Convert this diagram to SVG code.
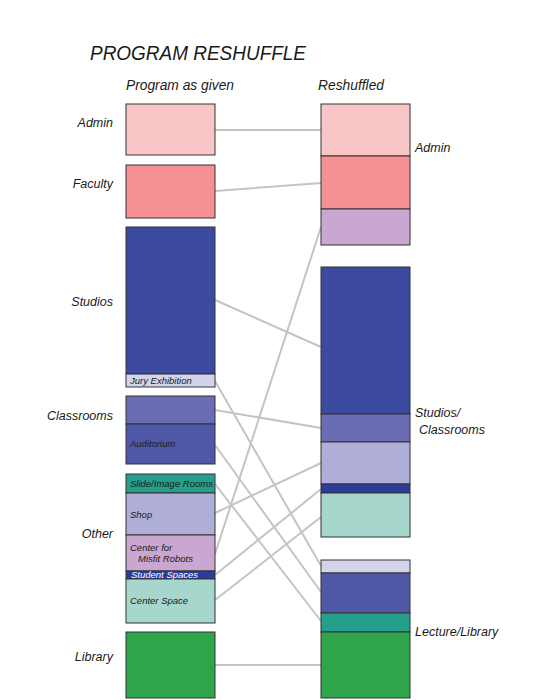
<svg xmlns="http://www.w3.org/2000/svg" width="550" height="700" viewBox="0 0 550 700">
<style>
text{font-family:"Liberation Sans",Arial,sans-serif;font-style:italic;fill:#1a1a1a}
.title{font-size:21px}
.head{font-size:15px}
.lbl{font-size:12.5px}
.sm{font-size:9.5px}
.box{stroke:#333;stroke-width:1}
.con line{stroke:#c4c4c4;stroke-width:2}
</style>
<rect width="550" height="700" fill="#fff"/>
<text class="title" x="90" y="60" textLength="216" lengthAdjust="spacingAndGlyphs">PROGRAM RESHUFFLE</text>
<text class="head" x="126" y="90" textLength="108" lengthAdjust="spacingAndGlyphs">Program as given</text>
<text class="head" x="318" y="90" textLength="66" lengthAdjust="spacingAndGlyphs">Reshuffled</text>

<g id="connectors" class="con">
<line x1="215" y1="130" x2="321" y2="130"/>
<line x1="215" y1="191" x2="321" y2="183"/>
<line x1="215" y1="300" x2="321" y2="347"/>
<line x1="215" y1="381" x2="321" y2="566"/>
<line x1="215" y1="410" x2="321" y2="428"/>
<line x1="215" y1="445" x2="321" y2="592"/>
<line x1="215" y1="484" x2="321" y2="621"/>
<line x1="215" y1="513" x2="321" y2="463"/>
<line x1="215" y1="554" x2="321" y2="227"/>
<line x1="215" y1="575" x2="321" y2="489"/>
<line x1="215" y1="600" x2="321" y2="517"/>
<line x1="215" y1="665" x2="321" y2="665"/>
</g>

<g id="left-admin">
<rect class="box" x="126" y="104" width="89" height="51" fill="#f9c6c8"/>
<text class="lbl" x="113" y="127" text-anchor="end">Admin</text>
</g>
<g id="left-faculty">
<rect class="box" x="126" y="165" width="89" height="53" fill="#f59193"/>
<text class="lbl" x="113" y="188" text-anchor="end">Faculty</text>
</g>
<g id="left-studios">
<rect class="box" x="126" y="227" width="89" height="147" fill="#3c4a9f"/>
<rect class="box" x="126" y="374" width="89" height="13" fill="#d4d3ec"/>
<text class="sm" x="130" y="384">Jury Exhibition</text>
<text class="lbl" x="113" y="306" text-anchor="end">Studios</text>
</g>
<g id="left-classrooms">
<rect class="box" x="126" y="396" width="89" height="28" fill="#6a6db3"/>
<rect class="box" x="126" y="424" width="89" height="40" fill="#5058a8"/>
<text class="sm" x="130" y="447">Auditorium</text>
<text class="lbl" x="113" y="420" text-anchor="end">Classrooms</text>
</g>
<g id="left-other">
<rect class="box" x="126" y="474" width="89" height="19" fill="#269e8c"/>
<rect class="box" x="126" y="493" width="89" height="42" fill="#afaed8"/>
<rect class="box" x="126" y="535" width="89" height="36" fill="#c9a7d0"/>
<rect class="box" x="126" y="571" width="89" height="8" fill="#2b3b9e"/>
<rect class="box" x="126" y="579" width="89" height="44" fill="#a6d6cc"/>
<text class="sm" x="130" y="487">Slide/Image Rooms</text>
<text class="sm" x="130" y="518">Shop</text>
<text class="sm" x="130" y="551">Center for</text>
<text class="sm" x="138" y="562">Misfit Robots</text>
<text class="sm" x="131" y="578" style="fill:#fff">Student Spaces</text>
<text class="sm" x="130" y="604">Center Space</text>
<text class="lbl" x="113" y="538" text-anchor="end">Other</text>
</g>
<g id="left-library">
<rect class="box" x="126" y="632" width="89" height="66" fill="#2ea54a"/>
<text class="lbl" x="113" y="661" text-anchor="end">Library</text>
</g>

<g id="right-admin">
<rect class="box" x="321" y="104" width="89" height="52" fill="#f9c6c8"/>
<rect class="box" x="321" y="156" width="89" height="53" fill="#f59193"/>
<rect class="box" x="321" y="209" width="89" height="36" fill="#c9a7d0"/>
<text class="lbl" x="415" y="152">Admin</text>
</g>
<g id="right-studios-classrooms">
<rect class="box" x="321" y="267" width="89" height="147" fill="#3c4a9f"/>
<rect class="box" x="321" y="414" width="89" height="28" fill="#6a6db3"/>
<rect class="box" x="321" y="442" width="89" height="42" fill="#afaed8"/>
<rect class="box" x="321" y="484" width="89" height="9" fill="#2b3b9e"/>
<rect class="box" x="321" y="493" width="89" height="44" fill="#a6d6cc"/>
<text class="lbl" x="415" y="417">Studios/</text>
<text class="lbl" x="419" y="434">Classrooms</text>
</g>
<g id="right-lecture-library">
<rect class="box" x="321" y="560" width="89" height="13" fill="#d4d3ec"/>
<rect class="box" x="321" y="573" width="89" height="40" fill="#5058a8"/>
<rect class="box" x="321" y="613" width="89" height="19" fill="#269e8c"/>
<rect class="box" x="321" y="632" width="89" height="66" fill="#2ea54a"/>
<text class="lbl" x="415" y="636">Lecture/Library</text>
</g>
</svg>
